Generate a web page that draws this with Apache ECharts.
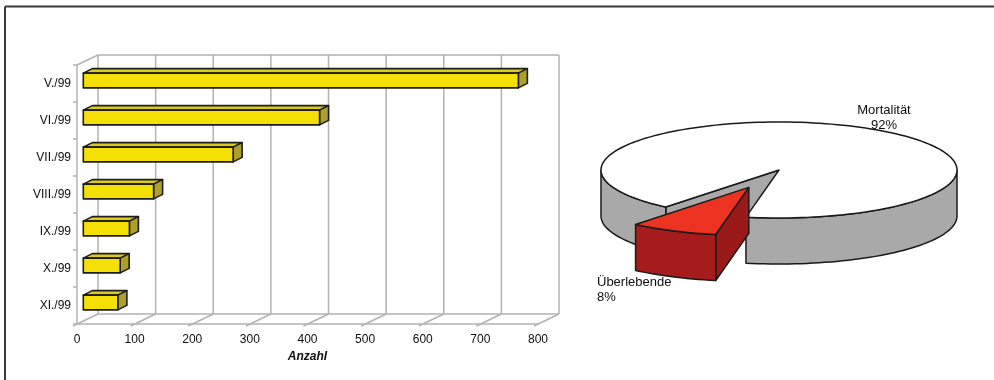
<!DOCTYPE html>
<html>
<head>
<meta charset="utf-8">
<script src="https://cdn.jsdelivr.net/npm/echarts@6/dist/echarts.min.js"></script>
<style>
  html, body { margin: 0; padding: 0; background: #fff; }
  #chart { width: 994px; height: 380px; }
</style>
</head>
<body>
<div id="chart"></div>
<script>
// Monthly counts (bar chart)
const categories = ['V./99', 'VI./99', 'VII./99', 'VIII./99', 'IX./99', 'X./99', 'XI./99'];
const counts = [755, 410, 260, 122, 80, 64, 60];
const xTicks = [0, 100, 200, 300, 400, 500, 600, 700, 800];

// Share of outcome (pie chart)
const pieNames = ['Mortalität', 'Überlebende'];
const pieValues = [92, 8];

// ---- styling / layout constants ----
const FONT = '"Liberation Sans", Arial, sans-serif';
const TEXT_COLOR = '#0d0d0d';
const WALL = [21, -10];          // depth of the 3D box behind the axes
const BAR_POS = 0.3;             // bars sit at this fraction of the box depth
const BAR_DEPTH = [9, -4.5];     // thickness of each bar in depth
const BAR_THICK = 0.4;           // bar height as a fraction of the category band
const GRID_COLOR = '#b2b2b2';
const BAR_COLORS = { front: '#f4e004', top: '#dccb1c', side: '#aea02c', edge: '#1e1e1e' };

const PIE = { cx: 779, cy: 170, rx: 178, ry: 48, depth: 46, start: 129.5 };
const PIE_EXPLODE = [0, 0.4];
const PIE_COLORS = [
  { top: '#ffffff', side: '#a9a9a9', face: '#a9a9a9' },
  { top: '#ec3220', side: '#a61c1c', face: '#9a1a1a' }
];
const PIE_LABELS = [
  { dx: 105, dy: -67, align: 'center' },
  { dx: -182, dy: 105, align: 'left' }
];

function line(x1, y1, x2, y2) {
  return { type: 'line', shape: { x1, y1, x2, y2 },
           style: { stroke: GRID_COLOR, lineWidth: 1.5 }, silent: true };
}

// back wall, floor and left wall of the 3D box
function renderBox(params, api) {
  const cs = params.coordSys;
  const v = api.value(0);
  const x = api.coord([v, 0])[0];
  const top = cs.y, bottom = cs.y + cs.height;
  const kids = [
    line(x + WALL[0], top + WALL[1], x + WALL[0], bottom + WALL[1]),
    line(x - 4, bottom + 2, x + WALL[0], bottom + WALL[1])
  ];
  if (params.dataIndex === 0) {
    const xEnd = api.coord([xTicks[xTicks.length - 1], 0])[0];
    kids.push(line(x, top, x + WALL[0], top + WALL[1]));
    kids.push(line(x + WALL[0], top + WALL[1], xEnd + WALL[0], top + WALL[1]));
    kids.push(line(x + WALL[0], bottom + WALL[1], xEnd + WALL[0], bottom + WALL[1]));
  }
  return { type: 'group', children: kids };
}

// a 3D bar: front face, top face and right end face
function renderBar(params, api) {
  const val = api.value(0);
  const idx = api.value(1);
  const p0 = api.coord([0, idx]);
  const p1 = api.coord([val, idx]);
  const band = api.size([0, 1])[1];
  const h = band * BAR_THICK;
  const sx = WALL[0] * BAR_POS, sy = WALL[1] * BAR_POS;
  const x0 = p0[0] + sx, x1 = p1[0] + sx;
  const yt = p0[1] + sy - h / 2, yb = p0[1] + sy + h / 2;
  const [dx, dy] = BAR_DEPTH;
  const st = (fill) => ({ fill, stroke: BAR_COLORS.edge, lineWidth: 1.6, lineJoin: 'round' });
  return {
    type: 'group',
    children: [
      { type: 'polygon', shape: { points: [[x0, yt], [x1, yt], [x1 + dx, yt + dy], [x0 + dx, yt + dy]] }, style: st(BAR_COLORS.top) },
      { type: 'polygon', shape: { points: [[x1, yt], [x1 + dx, yt + dy], [x1 + dx, yb + dy], [x1, yb]] }, style: st(BAR_COLORS.side) },
      { type: 'rect', shape: { x: x0, y: yt, width: x1 - x0, height: h }, style: st(BAR_COLORS.front) }
    ]
  };
}

// 3D pie drawn from the values: angles in degrees, clockwise on screen
const rad = (d) => d * Math.PI / 180;
function rim(cx, cy, a, yo) {
  return [cx + PIE.rx * Math.cos(rad(a)), cy + PIE.ry * Math.sin(rad(a)) + (yo || 0)];
}
function arc(cx, cy, a0, a1, yo) {
  const pts = [];
  const n = Math.max(2, Math.ceil(Math.abs(a1 - a0) / 2));
  for (let i = 0; i <= n; i++) pts.push(rim(cx, cy, a0 + (a1 - a0) * i / n, yo));
  return pts;
}

function renderPie(params, api) {
  const i = params.dataIndex;
  const total = pieValues.reduce((s, v) => s + v, 0);
  let before = 0;
  for (let k = 0; k < i; k++) before += pieValues[k];
  const a0 = PIE.start + before / total * 360;
  const a1 = a0 + api.value(0) / total * 360;
  const mid = (a0 + a1) / 2;
  const ex = PIE_EXPLODE[i];
  const cx = PIE.cx + Math.cos(rad(mid)) * PIE.rx * ex;
  const cy = PIE.cy + Math.sin(rad(mid)) * PIE.ry * ex;
  const D = PIE.depth;
  const col = PIE_COLORS[i];
  const edge = { stroke: '#1a1a1a', lineWidth: 1.5, lineJoin: 'round' };
  const kids = [];

  // radial faces that face the viewer
  const radial = (a) => {
    const r = rim(cx, cy, a);
    kids.push({ type: 'polygon', shape: { points: [[cx, cy], r, [r[0], r[1] + D], [cx, cy + D]] },
                style: Object.assign({ fill: col.face }, edge) });
  };
  if (Math.cos(rad(a0)) < 0) radial(a0);
  if (Math.cos(rad(a1)) > 0) radial(a1);

  // outer wall on the front half of the ellipse
  for (const [f0, f1] of [[0, 180], [360, 540]]) {
    const s = Math.max(a0, f0), e = Math.min(a1, f1);
    if (e > s) {
      const topPts = arc(cx, cy, s, e, 0);
      const botPts = arc(cx, cy, e, s, D);
      kids.push({ type: 'polygon', shape: { points: topPts.concat(botPts) },
                  style: Object.assign({ fill: col.side }, edge) });
    }
  }

  // top face
  kids.push({ type: 'polygon', shape: { points: [[cx, cy]].concat(arc(cx, cy, a0, a1, 0)) },
              style: Object.assign({ fill: col.top }, edge) });

  // label: name and percentage
  const lp = PIE_LABELS[i];
  kids.push({
    type: 'text',
    style: {
      text: pieNames[i] + '\n' + Math.round(api.value(0) / total * 100) + '%',
      x: PIE.cx + lp.dx, y: PIE.cy + lp.dy,
      align: lp.align, verticalAlign: 'top',
      font: '13px ' + FONT, lineHeight: 15, fill: TEXT_COLOR
    }
  });
  return { type: 'group', children: kids };
}

const chart = echarts.init(document.getElementById('chart'), null, { renderer: 'canvas' });
chart.setOption({
  animation: false,
  backgroundColor: '#ffffff',
  grid: { left: 77, top: 65, width: 461, height: 259, containLabel: false, outerBoundsMode: 'none' },
  xAxis: {
    type: 'value', min: 0, max: 800, interval: 100,
    name: 'Anzahl', nameLocation: 'middle', nameGap: 24,
    nameTextStyle: { fontFamily: FONT, fontSize: 12, fontWeight: 'bold', fontStyle: 'italic', color: TEXT_COLOR },
    axisLine: { show: true, lineStyle: { color: GRID_COLOR, width: 1.5 } },
    axisTick: { show: false },
    splitLine: { show: false },
    axisLabel: { margin: 10, fontFamily: FONT, fontSize: 12, color: TEXT_COLOR }
  },
  yAxis: {
    type: 'category', data: categories, inverse: true,
    axisLine: { show: true, lineStyle: { color: GRID_COLOR, width: 1.5 } },
    axisTick: { show: true, length: 4, lineStyle: { color: GRID_COLOR, width: 1.5 } },
    splitLine: { show: false },
    axisLabel: { margin: 6, fontFamily: FONT, fontSize: 12, color: TEXT_COLOR }
  },
  graphic: [
    { type: 'line', shape: { x1: 5, y1: 6.5, x2: 994, y2: 6.5 }, style: { stroke: '#3a3a3a', lineWidth: 2 } },
    { type: 'line', shape: { x1: 5, y1: 6.5, x2: 5, y2: 380 }, style: { stroke: '#3a3a3a', lineWidth: 2 } }
  ],
  series: [
    {
      type: 'custom', coordinateSystem: 'cartesian2d', clip: false, z: 1, silent: true,
      encode: { x: 0, y: 1 },
      data: xTicks.map((v) => [v, 0]),
      renderItem: renderBox
    },
    {
      type: 'custom', coordinateSystem: 'cartesian2d', clip: false, z: 3,
      encode: { x: 0, y: 1 },
      data: counts.map((c, i) => [c, i]),
      renderItem: renderBar
    },
    {
      type: 'custom', coordinateSystem: 'none', z: 3,
      data: pieValues.map((v, i) => ({ name: pieNames[i], value: [v] })),
      renderItem: renderPie
    }
  ]
});
</script>
</body>
</html>
